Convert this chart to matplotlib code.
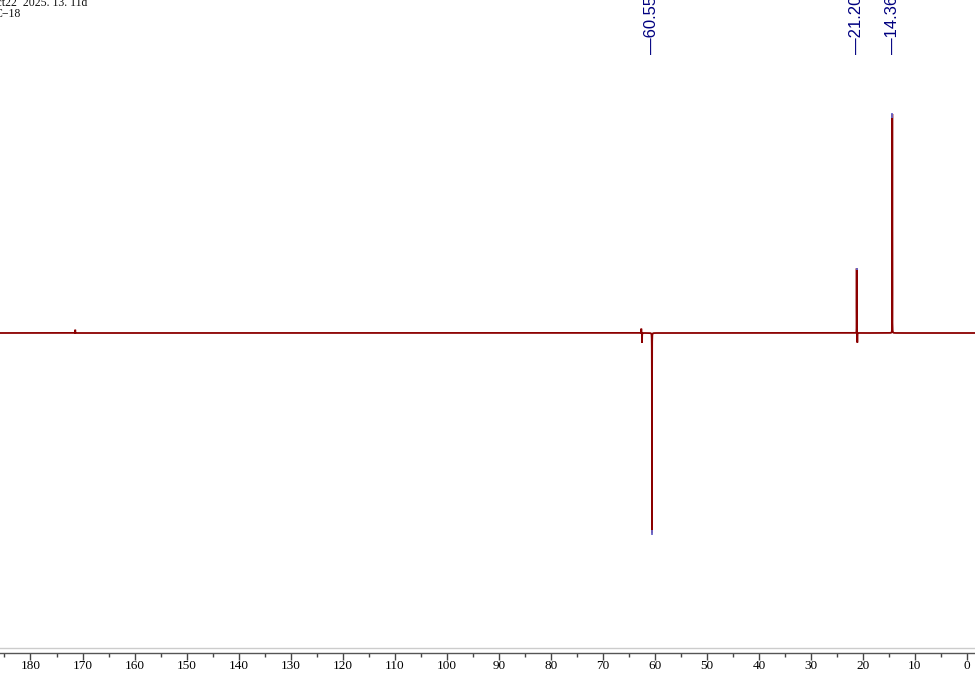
import numpy as np
import matplotlib
matplotlib.use("Agg")
import matplotlib.pyplot as plt
from matplotlib.transforms import blended_transform_factory

# ---- data ----
peak_ppm = [14.36, 21.20, 21.08, 60.55, 62.60, 62.45, 171.4]
peak_height = [100.0, 29.5, -4.5, -91.8, 2.0, -4.5, 1.5]
label_ppm = [60.55, 21.20, 14.36]
label_text = ["60.55", "21.20", "14.36"]
tip_ppm = [14.36, 21.20, 60.55]
tip_height = [100.0, 29.5, -91.8]
major_ticks = list(range(0, 190, 10))
minor_ticks = list(range(5, 190, 10))

x_left, x_right = 185.86, -1.54
y_bottom, y_top = -145.45, 151.36
hwhm = 0.008

ppm = np.linspace(x_left, x_right, 120000)
spec = np.zeros_like(ppm)
for p0, h in zip(peak_ppm, peak_height):
    spec += h * hwhm**2 / ((ppm - p0) ** 2 + hwhm**2)

fig = plt.figure(figsize=(9.75, 6.73), dpi=100)
ax = fig.add_axes([0, 20 / 673, 1, 653 / 673])
ax.set_xlim(x_left, x_right)
ax.set_ylim(y_bottom, y_top)

ax.plot(ppm, spec, color="#8b0000", lw=1.3, solid_joinstyle="miter")
for p0, h in zip(tip_ppm, tip_height):
    ax.plot([p0, p0], [h * 0.975, h], color="#6a6acd", lw=1.3, solid_capstyle="butt")

for s in ("top", "left", "right"):
    ax.spines[s].set_visible(False)
ax.spines["bottom"].set_color("#555555")
ax.spines["bottom"].set_linewidth(1.0)
ax.axhline(y_bottom + 5 / 2.2, color="#cccccc", lw=1.0)

ax.set_yticks([])
ax.set_xticks(major_ticks)
ax.set_xticks(minor_ticks, minor=True)
ax.set_xticklabels([str(t) for t in major_ticks], fontfamily="Liberation Serif", fontsize=9.5)
ax.tick_params(axis="x", which="major", direction="out", length=5, width=1, color="#444444", pad=0)
ax.tick_params(axis="x", which="minor", direction="out", length=3, width=1, color="#444444")
ax.set_xlabel("f1 (ppm)", fontfamily="Liberation Serif", fontsize=9.5, labelpad=1)

tr = blended_transform_factory(ax.transData, ax.transAxes)
for p0, t in zip(label_ppm, label_text):
    ax.text(p0, (653 - 54) / 653, "\u2014" + t, rotation=90, ha="center", va="bottom",
            color="#000080", fontsize=12, fontfamily="Liberation Sans",
            transform=tr, clip_on=False)

fig.text(-0.012, 1.004, "Oct22  2025. 13. 11d", ha="left", va="top",
         fontfamily="Liberation Serif", fontsize=8.5, color="#111111")
fig.text(-0.006, 0.988, "C\u221218", ha="left", va="top",
         fontfamily="Liberation Serif", fontsize=8.5, color="#111111")

fig.savefig("out.png", dpi=100)
